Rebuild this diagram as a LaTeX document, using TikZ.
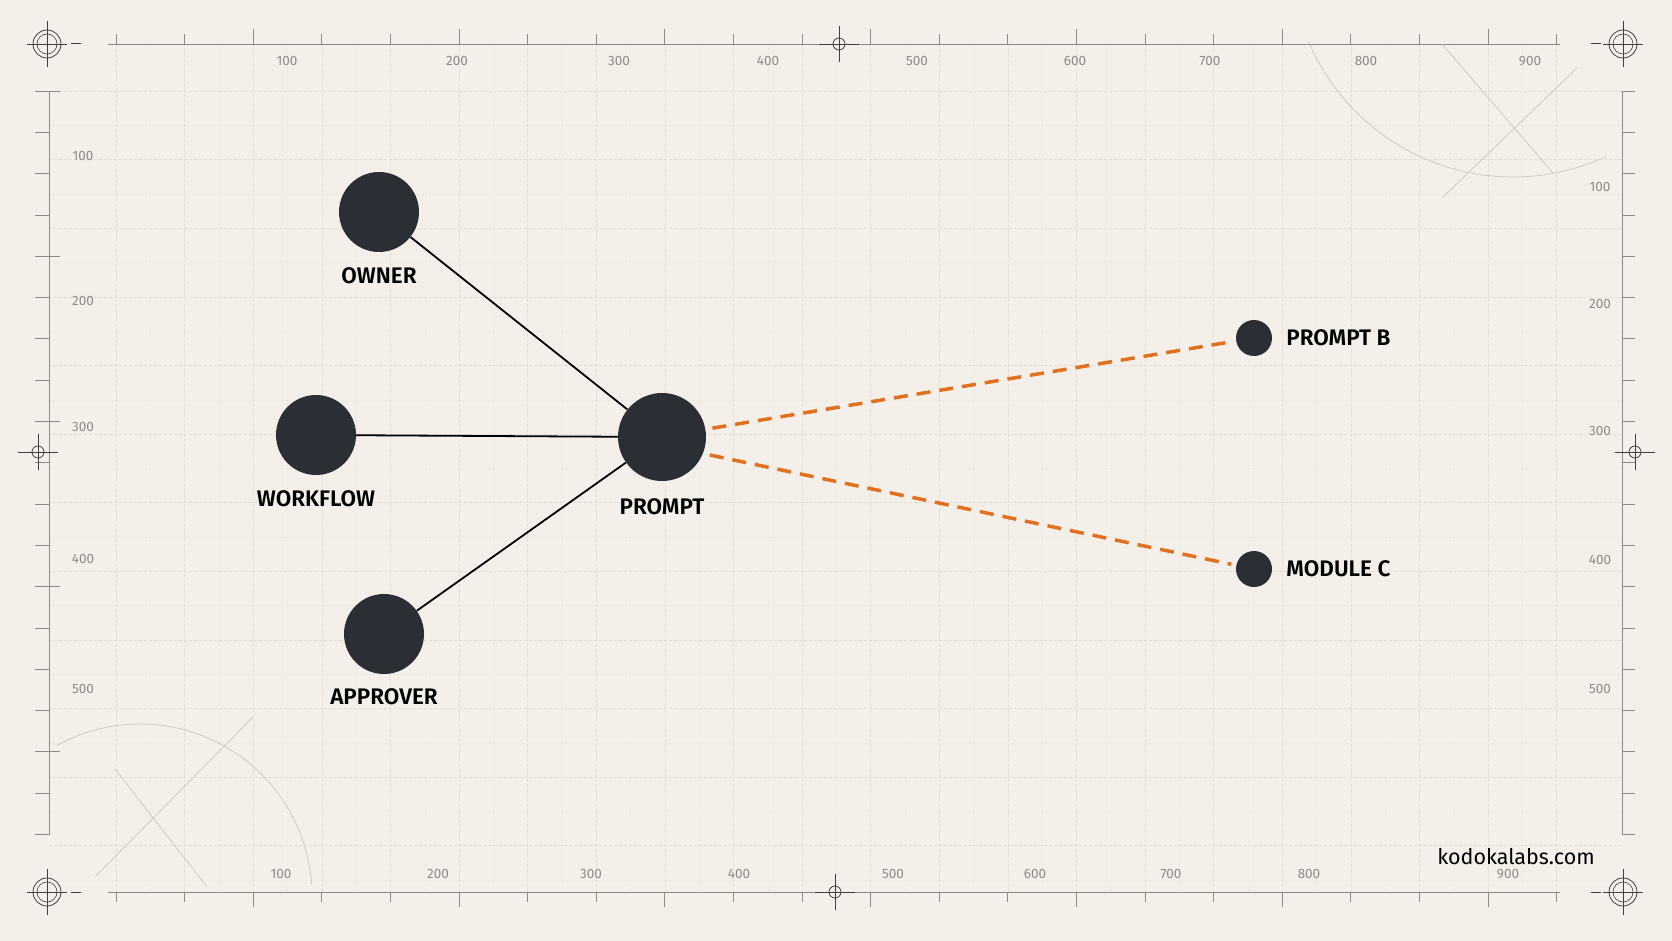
\documentclass[tikz,border=0pt]{standalone}
\usepackage{fontspec}
\setmainfont{Fira Sans}[BoldFont={* SemiBold}]
\usepackage{tikz}
\usetikzlibrary{positioning}
\definecolor{paper}{HTML}{F4F0E9}
\definecolor{ink}{HTML}{2B2E35}
\definecolor{rust}{HTML}{E2701E}
\definecolor{rule}{HTML}{8E8B86}
\definecolor{faint}{HTML}{E4DFD6}
\definecolor{fainter}{HTML}{ECE8E0}
\definecolor{sketch}{HTML}{CBC6BE}

\begin{document}
\begin{tikzpicture}[x=1pt, y=-1pt, node distance=16pt,
        every node/.append style={inner sep=0pt},
        link/.style={draw=black, line width=1.8pt},
        weak/.style={draw=rust, line width=3.5pt, dash pattern=on 14pt off 9pt,
                     shorten <=7pt, shorten >=5pt}]
      \tikzstyle{hub} = [circle, fill=ink, minimum size=88pt]
      \tikzstyle{actor} = [circle, fill=ink, minimum size=80pt]
      \tikzstyle{leaf} = [circle, fill=ink, minimum size=36pt]
      \tikzstyle{word} = [font=\bfseries\fontsize{22.5}{26}\selectfont, text=black]
      \tikzstyle{rulenum} = [font=\fontsize{13.5}{15}\selectfont, text=rule]
      \tikzstyle{rulerline} = [draw=rule, line width=0.7pt]
      \tikzstyle{cross} = [draw=black!75, line width=0.8pt]
      \useasboundingbox (0,0) rectangle (1672,941);
      \fill[paper] (0,0) rectangle (1672,941);
      % grid
      \foreach \i in {0,...,42}
        \draw[fainter, line width=0.4pt, dash pattern=on 2pt off 2pt] ({116+34.3*\i},44) -- ({116+34.3*\i},892);
      \foreach \i in {0,...,23}
        \draw[fainter, line width=0.4pt, dash pattern=on 2pt off 2pt] (49,{91+34.3*\i}) -- (1622,{91+34.3*\i});
      \foreach \i in {0,...,21}
        \draw[faint, line width=0.6pt, dash pattern=on 3pt off 2pt] ({116+68.6*\i},44) -- ({116+68.6*\i},892);
      \foreach \i in {0,...,11}
        \draw[faint, line width=0.6pt, dash pattern=on 3pt off 2pt] (49,{91+68.6*\i}) -- (1622,{91+68.6*\i});
      % rulers
      \draw[rulerline] (108,44) -- (1560,44);
      \draw[rulerline] (108,892) -- (1560,892);
      \draw[rulerline] (49,91) -- (49,835);
      \draw[rulerline] (1622,91) -- (1622,835);
      \foreach \i in {0,...,21} {
        \pgfmathsetmacro\tx{116+68.6*\i}
        \pgfmathsetmacro\th{mod(\i,3)==2 ? 15 : 10}
        \draw[rulerline] (\tx,44) -- (\tx,44-\th);
        \draw[rulerline] (\tx,892) -- (\tx,892+\th);
      }
      \foreach \i in {0,...,18} {
        \pgfmathsetmacro\ty{91+41.3*\i}
        \draw[rulerline] (35,\ty) -- (49,\ty);
        \draw[rulerline] (1622,\ty) -- (1635,\ty);
      }
      \foreach \i in {0,4,...,16}
        \draw[rulerline] (49,{91+41.3*\i}) -- (60,{91+41.3*\i});
      \foreach \n/\x in {100/287,200/457,300/619,400/768,500/917,600/1075,700/1210,800/1366,900/1530}
        \node (top\n) [rulenum] at (\x,61) {\n};
      \foreach \n/\x in {100/281,200/438,300/591,400/739,500/893,600/1035,700/1171,800/1309,900/1508}
        \node (bot\n) [rulenum] at (\x,874) {\n};
      \foreach \n/\y in {100/156,200/301,300/427,400/559,500/689}
        \node (left\n) [rulenum] at (83,\y) {\n};
      \foreach \n/\y in {100/187,200/304,300/431,400/560,500/689}
        \node (right\n) [rulenum] at (1600,\y) {\n};
      % register marks
      \foreach \cx/\cy/\dx in {47/44/29, 1623/44/-27, 47/892/29, 1623/892/-27} {
        \draw[cross] (\cx,\cy) circle[radius=14];
        \draw[cross, line width=0.6pt] (\cx,\cy) circle[radius=10];
        \draw[cross] (\cx-20,\cy) -- (\cx+20,\cy);
        \draw[cross] (\cx,\cy-23) -- (\cx,\cy+23);
        \draw[cross, line width=1pt] (\cx+\dx-5,\cy) -- (\cx+\dx+5,\cy);
      }
      \foreach \cx/\cy in {839/44, 835/892, 38/452, 1635/452} {
        \draw[cross] (\cx,\cy) circle[radius=6];
        \draw[cross] (\cx-20,\cy) -- (\cx+20,\cy);
        \draw[cross] (\cx,\cy-18) -- (\cx,\cy+18);
      }
      % construction sketches
      \draw[sketch, line width=0.7pt, domain=65:157, samples=60, variable=\a]
        plot ({1513+222*cos(\a)},{-45+222*sin(\a)});
      \draw[sketch, line width=0.7pt] (1442,44) -- (1553,173);
      \draw[sketch, line width=0.7pt] (1577,68) -- (1442,198);
      \draw[sketch, line width=0.7pt, domain=-119:-4, samples=60, variable=\a]
        plot ({140+172*cos(\a)},{896+172*sin(\a)});
      \draw[sketch, line width=0.7pt] (115,769) -- (207,887);
      \draw[sketch, line width=0.7pt] (95,877) -- (253,717);

      % the graph
      \node (PROMPT) [hub] at (662,437) {};
      \node (OWNER) [actor] at (379,212) {};
      \node (WORKFLOW) [actor] at (316,435) {};
      \node (APPROVER) [actor] at (384,634) {};
      \node (PROMPTB) [leaf] at (1254,338) {};
      \node (MODULEC) [leaf] at (1254,569) {};
      \node (PROMPTlbl) [word, below=17pt of PROMPT] {PROMPT};
      \node (OWNERlbl) [word, below=15.5pt of OWNER] {OWNER};
      \node (WORKFLOWlbl) [word, below=15pt of WORKFLOW] {WORKFLOW};
      \node (APPROVERlbl) [word, below=14pt of APPROVER] {APPROVER};
      \node (PROMPTBlbl) [word, right=14pt of PROMPTB] {PROMPT B};
      \node (MODULEClbl) [word, right=14pt of MODULEC] {MODULE C};
      \draw[link] (OWNER) -- (PROMPT);
      \draw[link] (WORKFLOW) -- (PROMPT);
      \draw[link] (APPROVER) -- (PROMPT);
      \draw[weak] (PROMPT.10) -- (PROMPTB);
      \draw[weak] (PROMPT.-22) -- (MODULEC);
      \node (SITE) [font=\fontsize{21.5}{25}\selectfont, text=black] at (1516,857) {kodokalabs.com};
    \end{tikzpicture}
\end{document}
